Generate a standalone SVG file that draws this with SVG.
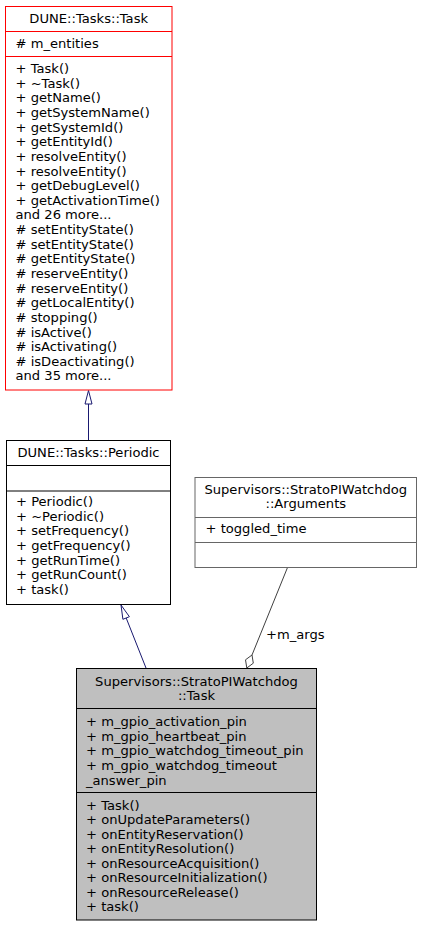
<svg xmlns="http://www.w3.org/2000/svg" width="422" height="927" viewBox="0 0 422 927">
<style>
text{font-family:"DejaVu Sans","Liberation Sans",sans-serif;font-size:13.1px;fill:#000}
.c{text-anchor:middle}
.box{fill:#fff;stroke:#000;stroke-width:1}
.red{stroke:#ff0000}
.grey{stroke:#666666}
.dark{fill:#bfbfbf}
.inh{stroke:#191970;fill:none;stroke-width:1}
.inhh{stroke:#191970;fill:#fff;stroke-width:1}
.agg{stroke:#404040;fill:none;stroke-width:1}
.aggh{stroke:#404040;fill:#fff;stroke-width:1}
</style>
<rect width="422" height="927" fill="#fff"/>
<g id="connectors">
  <path class="inh" d="M88.5,440.5 V404"/>
  <polygon class="inhh" points="88.5,390.5 85,404 92,404"/>
  <path class="inh" d="M146,668 L126.2,618"/>
  <polygon class="inhh" points="121,605 129.4,616.7 122.9,619.3"/>
  <path class="agg" d="M287.3,568 L252,655"/>
  <polygon class="aggh" points="246.8,668 245.5,659.8 252,655 253.3,663.2"/>
  <text x="266" y="639">+m_args</text>
</g>
<g id="node-task">
  <rect class="box red" x="5.5" y="6.5" width="166.5" height="383.5"/>
  <path class="red" stroke="#ff0000" d="M5.5,31.5 H172 M5.5,56.5 H172"/>
  <text class="c" x="88.7" y="23">DUNE::Tasks::Task</text>
  <text x="15.5" y="47.5"># m_entities</text>
  <text x="15.5" y="73">+ Task()</text>
  <text x="15.5" y="87.6">+ ~Task()</text>
  <text x="15.5" y="102.3">+ getName()</text>
  <text x="15.5" y="116.9">+ getSystemName()</text>
  <text x="15.5" y="131.6">+ getSystemId()</text>
  <text x="15.5" y="146.2">+ getEntityId()</text>
  <text x="15.5" y="160.8">+ resolveEntity()</text>
  <text x="15.5" y="175.5">+ resolveEntity()</text>
  <text x="15.5" y="190.1">+ getDebugLevel()</text>
  <text x="15.5" y="204.8">+ getActivationTime()</text>
  <text x="15.5" y="219.4">and 26 more...</text>
  <text x="15.5" y="234"># setEntityState()</text>
  <text x="15.5" y="248.7"># setEntityState()</text>
  <text x="15.5" y="263.3"># getEntityState()</text>
  <text x="15.5" y="278"># reserveEntity()</text>
  <text x="15.5" y="292.6"># reserveEntity()</text>
  <text x="15.5" y="307.2"># getLocalEntity()</text>
  <text x="15.5" y="321.9"># stopping()</text>
  <text x="15.5" y="336.5"># isActive()</text>
  <text x="15.5" y="351.2"># isActivating()</text>
  <text x="15.5" y="365.8"># isDeactivating()</text>
  <text x="15.5" y="380.4">and 35 more...</text>
</g>
<g id="node-periodic">
  <rect class="box" x="6.5" y="440.5" width="164" height="164"/>
  <path stroke="#000" d="M6.5,465.5 H170.5 M6.5,491 H170.5"/>
  <text class="c" x="88.5" y="457">DUNE::Tasks::Periodic</text>
  <text x="16" y="506">+ Periodic()</text>
  <text x="16" y="520.6">+ ~Periodic()</text>
  <text x="16" y="535.3">+ setFrequency()</text>
  <text x="16" y="549.9">+ getFrequency()</text>
  <text x="16" y="564.6">+ getRunTime()</text>
  <text x="16" y="579.2">+ getRunCount()</text>
  <text x="16" y="593.8">+ task()</text>
</g>
<g id="node-arguments">
  <rect class="box grey" x="195" y="477.5" width="221.5" height="90"/>
  <path stroke="#666666" d="M195,517.5 H416.5 M195,542.5 H416.5"/>
  <text class="c" x="305.8" y="494">Supervisors::StratoPIWatchdog</text>
  <text class="c" x="305.8" y="508">::Arguments</text>
  <text x="205.5" y="533">+ toggled_time</text>
</g>
<g id="node-strato-task">
  <rect class="box dark" x="76.5" y="668.5" width="240" height="251.5"/>
  <path stroke="#000" d="M76.5,708.5 H316.5 M76.5,792.5 H316.5"/>
  <text class="c" x="196.5" y="686">Supervisors::StratoPIWatchdog</text>
  <text class="c" x="196.5" y="699.5">::Task</text>
  <text x="86" y="726">+ m_gpio_activation_pin</text>
  <text x="86" y="740.6">+ m_gpio_heartbeat_pin</text>
  <text x="86" y="755.2">+ m_gpio_watchdog_timeout_pin</text>
  <text x="86" y="769.9">+ m_gpio_watchdog_timeout</text>
  <text x="86" y="784.5">_answer_pin</text>
  <text x="86" y="809.5">+ Task()</text>
  <text x="86" y="824">+ onUpdateParameters()</text>
  <text x="86" y="838.5">+ onEntityReservation()</text>
  <text x="86" y="853">+ onEntityResolution()</text>
  <text x="86" y="867.5">+ onResourceAcquisition()</text>
  <text x="86" y="882">+ onResourceInitialization()</text>
  <text x="86" y="896.5">+ onResourceRelease()</text>
  <text x="86" y="911">+ task()</text>
</g>
</svg>
